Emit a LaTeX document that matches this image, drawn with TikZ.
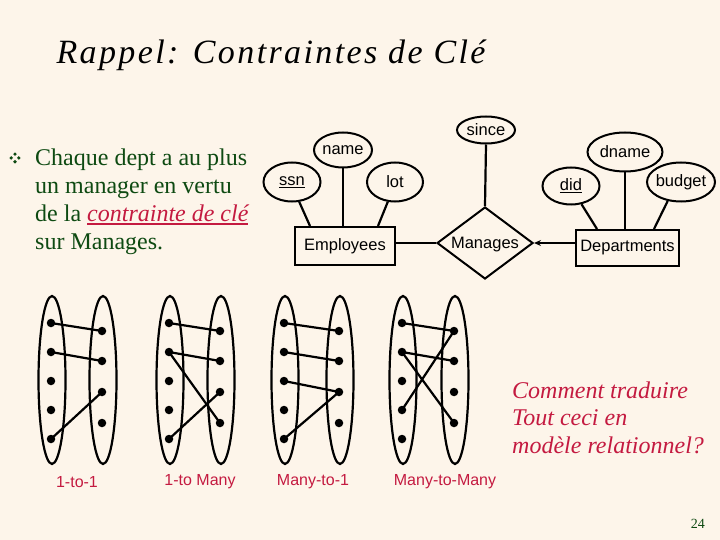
\documentclass[tikz,border=0pt]{standalone}
\usepackage{fontspec}
\setmainfont{Liberation Serif}
\setsansfont{Liberation Sans}
\usetikzlibrary{shapes.geometric,arrows.meta}
\definecolor{slidebg}{HTML}{FDF5EA}
\definecolor{textgreen}{HTML}{0E4A12}
\definecolor{keyred}{HTML}{C41A40}
\newcommand{\thickul}[1]{\setbox0\hbox{#1}\rlap{\rule[-4pt]{\wd0}{2.2pt}}\box0}

\begin{document}
\begin{tikzpicture}[x=1pt, y=-1pt,
    every node/.style={font=\sffamily\fontsize{16.5}{18}\selectfont},
    entity/.style={draw, line width=2pt, minimum width=100pt, minimum height=38pt, inner sep=0pt},
    attr/.style={draw, ellipse, line width=2pt, inner ysep=0pt, inner xsep=-2pt},
    rel/.style={draw, diamond, aspect=1.33, line width=2pt, minimum width=96pt, minimum height=72pt, inner sep=0pt},
    link/.style={line width=2.2pt},
    dot/.style={circle, fill, inner sep=0pt, minimum size=8.5pt},
    blob/.style={ellipse, draw, line width=2.2pt, inner sep=0pt, minimum width=27pt, minimum height=168pt},
    kind/.style={text=keyred, font=\sffamily\fontsize{16}{18}\selectfont}]
  \fill[slidebg] (0,0) rectangle (720,540);
  \useasboundingbox (0,0) rectangle (720,540);

  \node[anchor=base west, font=\rmfamily\itshape\fontsize{34}{40}\selectfont\addfontfeature{LetterSpace=7}] (title) at (53,64) {Rappel: Contraintes de Clé};

  % bullet
  \coordinate (bul) at (15,158);
  \foreach \dx/\dy in {-3.8/0, 3.8/0, 0/-3.8, 0/3.8}
    \fill[textgreen] ([shift={(\dx,\dy)}]bul) circle (1.8);
  \node[anchor=base west, align=left, inner sep=0pt, text=textgreen, font=\rmfamily\fontsize{24}{27.7}\selectfont] (pt) at (35,249)
    {Chaque dept a au plus\\un manager en vertu\\de la {\color{keyred}\itshape\thickul{contrainte de clé}}\\sur Manages.};

  % ER diagram
  \node[entity] (emp) at (345,246) {Employees};
  \node[rel, text depth=0pt] (mng) at (485,243) {Manages};
  \node[entity, minimum width=103pt, minimum height=36pt] (dept) at (627.5,248) {Departments};
  \node[attr, minimum width=58pt, minimum height=27pt] (since) at (486,130) {since};
  \node[attr, minimum width=58pt, minimum height=35pt] (name) at (343,150) {name};
  \node[attr, minimum width=57pt, minimum height=39pt] (ssn) at (292,182) {\underline{ssn}};
  \node[attr, minimum width=56pt, minimum height=39pt] (lot) at (395,182) {lot};
  \node[attr, minimum width=57pt, minimum height=37pt] (did) at (571,186) {\underline{did}};
  \node[attr, minimum width=75pt, minimum height=39pt] (dname) at (625,152) {dname};
  \node[attr, inner xsep=-4pt, minimum width=68pt, minimum height=39pt] (budget) at (681,182) {budget};

  \draw[link] (ssn.-70) -- ([xshift=16pt]emp.north west);
  \draw[link] (name.south) -- (name.south |- emp.north);
  \draw[link] (lot.-110) -- ([xshift=-18pt]emp.north east);
  \draw[link] (since.south) -- (mng.north);
  \draw[link] (did.-60) -- ([xshift=22pt]dept.north west);
  \draw[link] (dname.south) -- (dname.south |- dept.north);
  \draw[link] (budget.-125) -- ([xshift=-26pt]dept.north east);
  \draw[link] (emp.east |- mng) -- (mng.west);
  \draw[link, -{Stealth[length=7pt, width=6pt]}] (dept.west |- mng) -- (mng.east);

  % mapping pictures
  \foreach \g/\lx/\rx in {A/51/102, B/169/220, C/284/339, D/402/454} {
    \node[blob] (\g-left) at (\lx+1,380) {};
    \node[blob] (\g-right) at (\rx+1,380) {};
    \foreach \i/\y in {1/323, 2/352, 3/381, 4/410, 5/439}
      \node[dot] (\g-l\i) at (\lx,\y) {};
    \foreach \i/\y in {1/331, 2/361, 3/392, 4/423}
      \node[dot] (\g-r\i) at (\rx,\y) {};
  }
  \foreach \a/\b in {A-l1/A-r1, A-l2/A-r2, A-l5/A-r3,
                     B-l1/B-r1, B-l2/B-r2, B-l2/B-r4, B-l5/B-r3,
                     C-l1/C-r1, C-l2/C-r2, C-l3/C-r3, C-l5/C-r3,
                     D-l1/D-r1, D-l2/D-r2, D-l2/D-r4, D-l4/D-r1}
    \draw[link] (\a.center) -- (\b.center);

  \node[kind] (oneone) at (77,482) {1-to-1};
  \node[kind] (onemany) at (200,482) {1-to Many};
  \node[kind] (manyone) at (313,482) {Many-to-1};
  \node[kind] (manymany) at (445,482) {Many-to-Many};

  \node[anchor=base west, align=left, inner sep=0pt, text=keyred, font=\rmfamily\itshape\fontsize{24}{27.5}\selectfont] (ask) at (512,453)
    {Comment traduire\\Tout ceci en\\modèle relationnel?};
  \node[anchor=base east, inner sep=0pt, text=textgreen, font=\rmfamily\fontsize{14}{16}\selectfont] (pg) at (705,528) {24};
\end{tikzpicture}
\end{document}
